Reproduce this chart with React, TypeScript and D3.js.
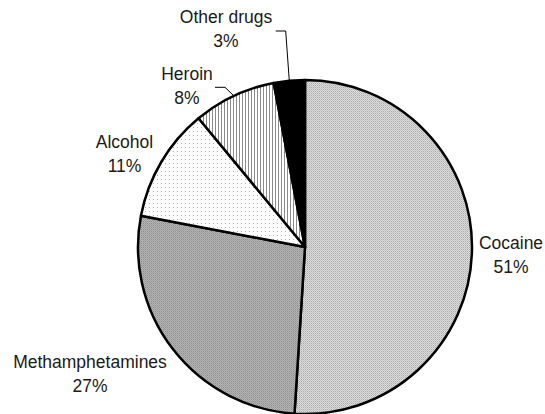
import React from "react";
import * as d3 from "d3";

const categories = ["Cocaine", "Methamphetamines", "Alcohol", "Heroin", "Other drugs"];
const shares = [51, 27, 11, 8, 3];
const percentLabels = ["51%", "27%", "11%", "8%", "3%"];

// layout (not data)
const W = 545;
const H = 414;
const CX = 305;
const CY = 247;
const R = 167;
const fills = ["url(#pCoc)", "url(#pMeth)", "url(#pAlc)", "url(#pHer)", "#000"];
// first-line baseline of each label, centre x (relative to pie centre)
const labelOffsets: [number, number][] = [
  [206, 2],
  [-215, 121],
  [-180.5, -99],
  [-118, -167],
  [-79, -224],
];
// leader line start (relative to pie centre) or null
const leaderStarts: ([number, number][] | null)[] = [
  null,
  null,
  null,
  [[-90, -159.7], [-80, -159.7]],
  [[-29.3, -216], [-19.3, -216]],
];

export default function App() {
  const pie = d3
    .pie<number>()
    .sort(null)
    .value((d) => d)
    .startAngle(0)
    .endAngle(2 * Math.PI);
  const arcs = pie(shares);
  const arcGen = d3.arc<d3.PieArcDatum<number>>().innerRadius(0).outerRadius(R);
  const line = d3.line();

  return (
    <div style={{ position: "absolute", left: 0, top: 0 }}>
      <svg width={W} height={H} style={{ display: "block", background: "#fff" }}>
        <defs>
          <pattern id="pCoc" width="2" height="2" patternUnits="userSpaceOnUse">
            <rect width="2" height="2" fill="#dcdcdc" />
            <rect width="1" height="1" fill="#ababab" />
            <rect x="1" y="1" width="1" height="1" fill="#c4c4c4" />
          </pattern>
          <pattern id="pMeth" width="2" height="2" patternUnits="userSpaceOnUse">
            <rect width="2" height="2" fill="#b4b4b4" />
            <rect width="1" height="1" fill="#8e8e8e" />
            <rect x="1" y="1" width="1" height="1" fill="#a2a2a2" />
          </pattern>
          <pattern id="pAlc" width="4" height="4" patternUnits="userSpaceOnUse">
            <rect width="4" height="4" fill="#fff" />
            <rect width="1" height="1" fill="#b0b0b0" />
          </pattern>
          <pattern id="pHer" width="3" height="3" patternUnits="userSpaceOnUse">
            <rect width="3" height="3" fill="#fff" />
            <rect width="1" height="3" fill="#8a8a8a" />
          </pattern>
        </defs>
        <g transform={`translate(${CX},${CY})`}>
          {arcs.map((a, i) => (
            <path
              key={categories[i]}
              d={arcGen(a) || ""}
              fill={fills[i]}
              stroke="#000"
              strokeWidth={2.5}
              strokeLinejoin="round"
            />
          ))}
          {arcs.map((a, i) => {
            const s = leaderStarts[i];
            if (!s) return null;
            const mid = (a.startAngle + a.endAngle) / 2;
            const end: [number, number] = [Math.sin(mid) * R, -Math.cos(mid) * R];
            return (
              <path
                key={"l" + i}
                d={line([...s, end]) || ""}
                fill="none"
                stroke="#000"
                strokeWidth={1}
              />
            );
          })}
          {categories.map((c, i) => (
            <text
              key={"t" + c}
              x={labelOffsets[i][0]}
              y={labelOffsets[i][1]}
              textAnchor="middle"
              fontFamily="'Liberation Sans', Arial, sans-serif"
              fontSize={17.5}
              fill="#1a1a1a"
            >
              <tspan x={labelOffsets[i][0]}>{c}</tspan>
              <tspan x={labelOffsets[i][0]} dy={24}>
                {percentLabels[i]}
              </tspan>
            </text>
          ))}
        </g>
      </svg>
    </div>
  );
}
